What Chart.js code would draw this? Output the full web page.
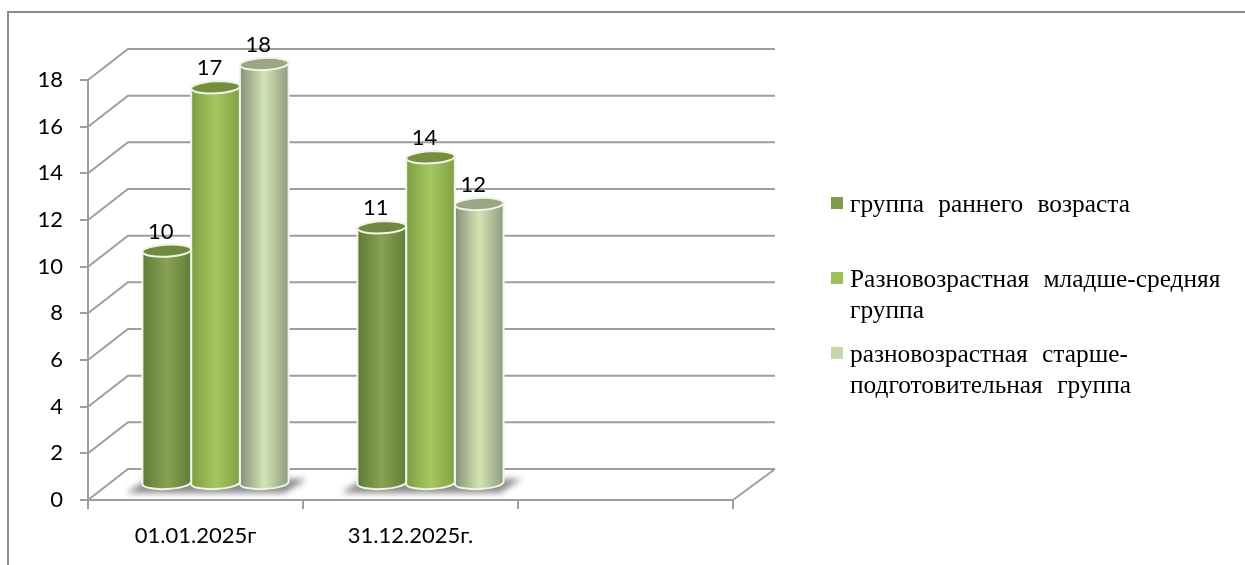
<!DOCTYPE html>
<html>
<head>
<meta charset="utf-8">
<script src="https://cdn.jsdelivr.net/npm/chart.js@4"></script>
<style>
  html, body { margin: 0; padding: 0; background: #fff; }
  #wrap { width: 1245px; height: 565px; position: relative; }
</style>
</head>
<body>
<div id="wrap"><canvas id="chart" width="1245" height="565"></canvas></div>
<script>
// data
const categories = ['01.01.2025г', '31.12.2025г.', ''];
const earlyAge = [10, 11, null];
const juniorMiddle = [17, 14, null];
const seniorPrep = [18, 12, null];
const yTicks = [0, 2, 4, 6, 8, 10, 12, 14, 16, 18];
const earlyAgeName = ['группа раннего возраста'];
const juniorMiddleName = ['Разновозрастная младше-средняя', 'группа'];
const seniorPrepName = ['разновозрастная старше-', 'подготовительная группа'];

const GRID = '#9e9e9e';
const SANS = 'Lato, "Open Sans", sans-serif';
// depth of the fake 3d box
const DEPTH_X = 40, DEPTH_Y = 31;

// edge, middle, edge colours of the cylinders and the lid
const looks = [
  { stops: ['#5f7a36', '#88a353', '#627d38'], lid: '#6f8a3e', square: '#7f9a4b' },
  { stops: ['#7f9c44', '#a5c860', '#82a046'], lid: '#748f3e', square: '#9fbf5c' },
  { stops: ['#868f78', '#d4e4b5', '#8f9a7e'], lid: '#9aa782', square: '#c6d8a9' }
];

// back wall and floor, drawn under the bars
const wallPlugin = {
  id: 'wall',
  beforeDatasetsDraw(chart) {
    const c = chart.ctx, y = chart.scales.y, a = chart.chartArea;
    c.save();
    // page frame, only top and left
    c.strokeStyle = '#8c8c8c';
    c.lineWidth = 2;
    c.beginPath();
    c.moveTo(8, 565);
    c.lineTo(8, 12);
    c.lineTo(1245, 12);
    c.stroke();
    c.strokeStyle = GRID;
    c.lineWidth = 2;
    c.beginPath();
    yTicks.forEach(v => {
      const py = y.getPixelForValue(v);
      c.moveTo(a.left, py);
      c.lineTo(a.left + DEPTH_X, py - DEPTH_Y);
      c.lineTo(a.right + DEPTH_X + 2, py - DEPTH_Y);
    });
    const py0 = y.getPixelForValue(0);
    c.moveTo(a.right, py0);
    c.lineTo(a.right + DEPTH_X + 2, py0 - DEPTH_Y);
    c.stroke();
    // shadows on the floor
    chart.getDatasetMeta(0).data.forEach((first, i) => {
      const last = chart.getDatasetMeta(2).data[i];
      if (categories[i] === '') return;
      const fy = py0 - 16;
      const x0 = first.x + DEPTH_X / 2 - first.width / 2;
      const x1 = last.x + DEPTH_X / 2 + last.width / 2;
      c.save();
      c.filter = 'blur(3px)';
      c.fillStyle = '#8a8a8a';
      c.beginPath();
      c.moveTo(x0 - 16, fy + 9);
      c.lineTo(x0 + 6, fy - 5);
      c.lineTo(x1 + 18, fy - 5);
      c.lineTo(x1 - 4, fy + 9);
      c.closePath();
      c.fill();
      c.restore();
    });
    c.restore();
  }
};

// bars sit in the middle of the box, so shift them half the depth
const cylinderPlugin = {
  id: 'cylinder',
  beforeDatasetDraw(chart) {
    chart.ctx.save();
    chart.ctx.translate(DEPTH_X / 2, -16);
  },
  afterDatasetDraw(chart, args) {
    const c = chart.ctx, look = looks[args.index];
    const tilt = -0.05;
    args.meta.data.forEach((bar, i) => {
      if (chart.data.datasets[args.index].data[i] === null) return;
      const l = bar.x - bar.width / 2, r = bar.x + bar.width / 2, rx = bar.width / 2, ry = 6;
      const g = c.createLinearGradient(l, 0, r, 0);
      g.addColorStop(0, look.stops[0]);
      g.addColorStop(0.5, look.stops[1]);
      g.addColorStop(1, look.stops[2]);
      c.beginPath();
      c.ellipse(bar.x, bar.base, rx, ry, tilt, Math.PI, 0, true);
      c.ellipse(bar.x, bar.y, rx, ry, tilt, 0, Math.PI, true);
      c.closePath();
      c.fillStyle = g;
      c.fill();
      c.strokeStyle = '#f1f4e9';
      c.lineWidth = 2;
      c.stroke();
      c.beginPath();
      c.ellipse(bar.x, bar.y, rx, ry, tilt, 0, Math.PI * 2);
      c.fillStyle = look.lid;
      c.fill();
      c.stroke();
    });
    c.restore();
    // value labels
    c.save();
    c.font = '22px ' + SANS;
    c.fillStyle = '#000';
    c.textAlign = 'center';
    c.textBaseline = 'middle';
    args.meta.data.forEach((bar, i) => {
      const v = chart.data.datasets[args.index].data[i];
      if (v === null) return;
      c.fillText(String(v), bar.x + DEPTH_X / 2 - 6, bar.y - 16 - 19);
    });
    c.restore();
  }
};

// legend on the right, Word-style text
const legendPlugin = {
  id: 'sideLegend',
  afterDraw(chart) {
    const c = chart.ctx;
    const rows = [
      { lines: earlyAgeName, top: 197 },
      { lines: juniorMiddleName, top: 272 },
      { lines: seniorPrepName, top: 347 }
    ];
    c.save();
    c.font = '25.4px "Liberation Serif", serif';
    c.wordSpacing = '8px';
    c.textBaseline = 'alphabetic';
    rows.forEach((row, i) => {
      c.fillStyle = looks[i].square;
      c.fillRect(831, row.top, 12, 12);
      c.fillStyle = '#000';
      row.lines.forEach((line, n) => {
        c.fillText(line, 850, row.top + 15 + n * 31);
      });
    });
    c.restore();
  }
};

new Chart(document.getElementById('chart'), {
  type: 'bar',
  data: {
    labels: categories,
    datasets: [
      { label: earlyAgeName.join(' '), data: earlyAge, backgroundColor: looks[0].stops[1] },
      { label: juniorMiddleName.join(' '), data: juniorMiddle, backgroundColor: looks[1].stops[1] },
      { label: seniorPrepName.join(' '), data: seniorPrep, backgroundColor: looks[2].stops[1] }
    ]
  },
  options: {
    responsive: false,
    animation: false,
    layout: { padding: { left: 0, top: 80, right: 512, bottom: 0 } },
    plugins: { legend: { display: false }, tooltip: { enabled: false } },
    datasets: { bar: { categoryPercentage: 0.68, barPercentage: 1 } },
    scales: {
      x: {
        afterFit(s) { s.height = 65; },
        grid: { drawOnChartArea: false, color: GRID, lineWidth: 2, tickLength: 9 },
        border: { color: GRID, width: 2 },
        ticks: { color: '#000', font: { family: SANS, size: 22 }, padding: 14, maxRotation: 0 }
      },
      y: {
        min: 0,
        max: 18,
        afterFit(s) { s.width = 88; },
        grid: { drawOnChartArea: false, color: GRID, lineWidth: 2, tickLength: 8 },
        border: { color: GRID, width: 2 },
        ticks: { color: '#000', stepSize: 2, font: { family: SANS, size: 22 }, padding: 17 }
      }
    }
  },
  plugins: [wallPlugin, cylinderPlugin, legendPlugin]
});
</script>
</body>
</html>
